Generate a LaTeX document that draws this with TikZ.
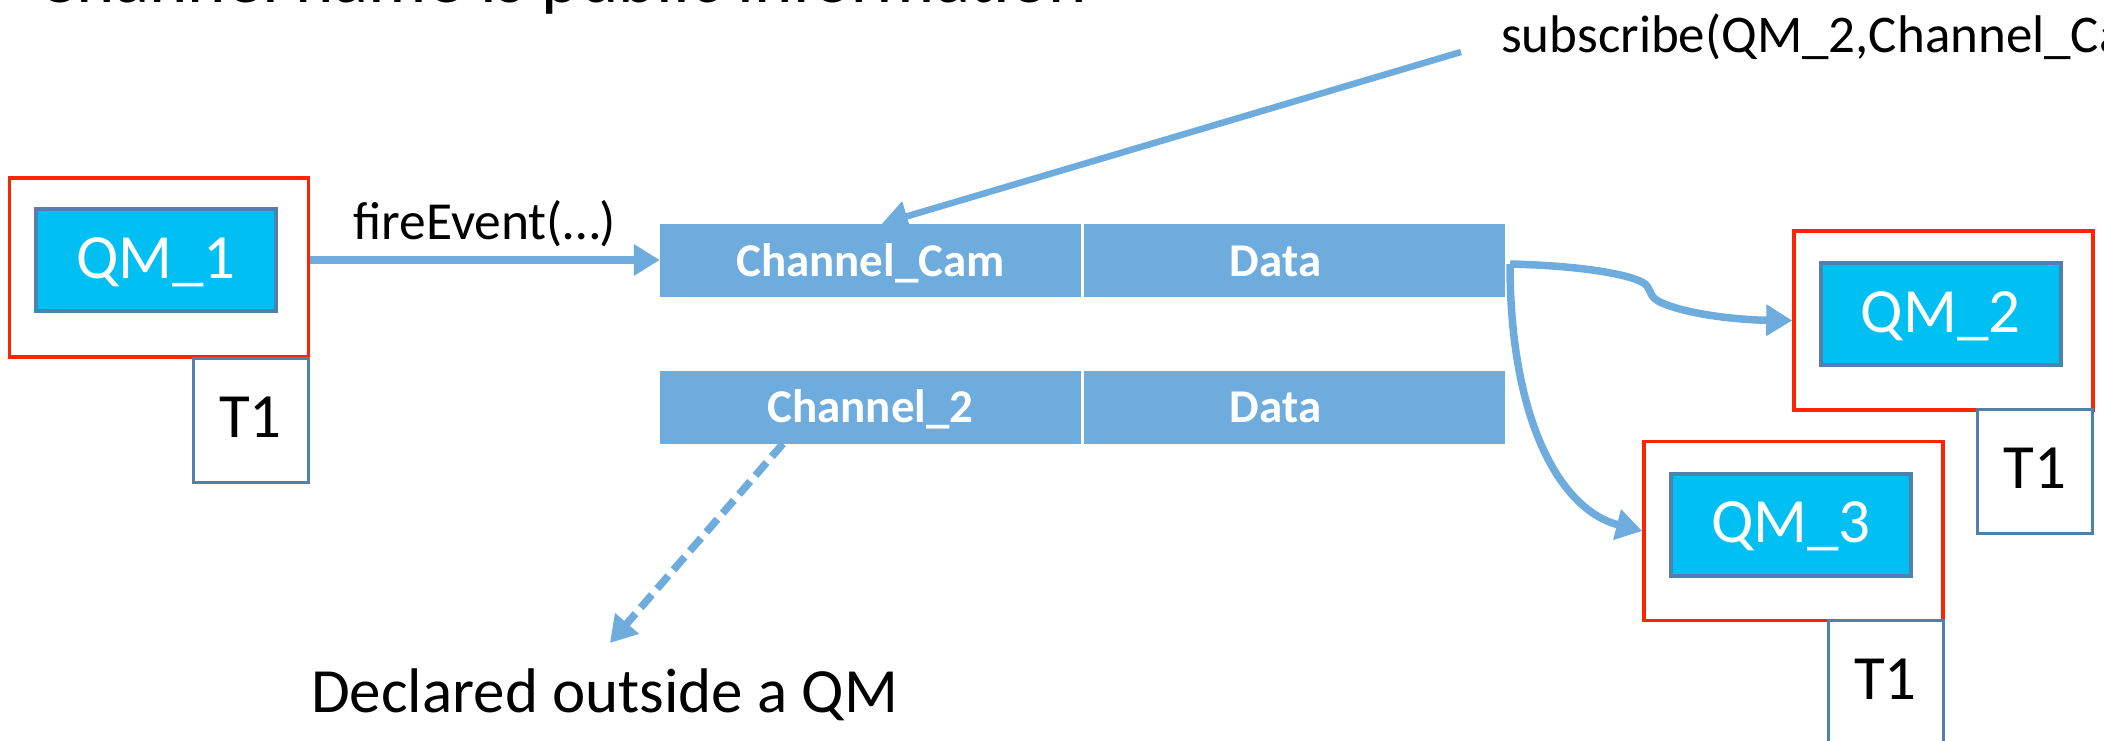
\documentclass[tikz,border=0pt]{standalone}
\usepackage{fontspec}
\setmainfont{Carlito}
\usetikzlibrary{arrows.meta}
\definecolor{chanblue}{HTML}{6FACDE}
\definecolor{qmcyan}{HTML}{00BFF2}
\definecolor{edgeblue}{HTML}{5080AE}
\definecolor{qmred}{HTML}{FF2400}
\newcommand\fsz[1]{\fontsize{#1pt}{#1pt}\selectfont}

\begin{document}
\begin{tikzpicture}[x=1pt,y=-1pt,
  qmframe/.style={draw=qmred,line width=3.5pt,minimum width=299pt,minimum height=179pt,inner sep=0pt},
  qmcore/.style={draw=edgeblue,fill=qmcyan,line width=4pt,minimum width=240pt,minimum height=102pt,
    inner sep=0pt,text=white,font=\fsz{63},text height=36pt,text depth=0pt},
  tbox/.style={draw=edgeblue,fill=white,line width=3pt,minimum width=115pt,minimum height=124pt,
    inner sep=0pt,font=\fsz{63},text height=34pt,text depth=0pt},
  chan/.style={fill=chanblue,minimum width=421pt,minimum height=73pt,inner sep=0pt,
    text=white,font=\bfseries\fsz{47},text height=31pt,text depth=0pt},
  flow/.style={draw=chanblue,line width=7.5pt,-{Triangle[length=26pt,width=30pt]}},
  txt/.style={anchor=base west,inner sep=0pt},
]
\useasboundingbox (0,0) rectangle (2104,741);
\fill[white] (0,0) rectangle (2104,741);
\clip (0,0) rectangle (2104,741);

% slide heading, running off the top edge
\node[txt,font=\fsz{73}] (title) at (37,3) {Channel name is public information};

% publisher QM_1 with its thread
\node[qmframe] (qm1) at (159,267.5) {};
\node[qmcore] (qm1in) at (156,260) {QM\_1};
\node[tbox] (t1a) at (250.5,420) {T1};

% channel table
\node[chan] (ch1) at (870.5,260.5) {Channel\_Cam};
\node[chan] (d1) at (1294.5,260.5) {\hspace*{-38pt}Data};
\node[chan] (ch2) at (870.5,407) {Channel\_2};
\node[chan] (d2) at (1294.5,407) {\hspace*{-38pt}Data};

% subscriber QM_2
\node[qmframe] (qm2) at (1943.5,320.5) {};
\node[qmcore] (qm2in) at (1940.5,314) {QM\_2};
\node[tbox] (t1b) at (2035,471.5) {T1};

% subscriber QM_3
\node[qmframe] (qm3) at (1793.5,531) {};
\node[qmcore] (qm3in) at (1791,524.5) {QM\_3};
\node[tbox] (t1c) at (1885.5,682.5) {T1};

% labels
\node[txt,font=\fsz{53.5}] (fire) at (353,239) {fireEvent(…)};
\node[txt,font=\fsz{53}] (subtxt) at (1501,53) {subscribe(QM\_2,Channel\_Cam)};
\node[txt,font=\fsz{63}] (decl) at (311,712) {Declared outside a QM};

% connectors
\coordinate (subtail) at (1461,52);
\coordinate (fork) at (1510,264);
\coordinate (declhead) at (610,643);

\draw[flow] (qm1in.center -| qm1.east) -- (qm1in.center -| ch1.west);
\draw[flow,line width=6.5pt] (subtail) -- ([xshift=222pt]ch1.north west);
\draw[flow] (fork) .. controls (1590,266) and (1635,276) .. (1645,284)
  .. controls (1652,290) and (1648,297) .. (1662,303)
  .. controls (1690,315) and (1740,320) .. (qm2.west);
\draw[flow] (fork) .. controls (1510,420) and (1560,510) .. (qm3.west);
\draw[flow,dash pattern=on 17pt off 8pt] ([xshift=-87.5pt]ch2.south) -- (declhead);
\end{tikzpicture}
\end{document}
